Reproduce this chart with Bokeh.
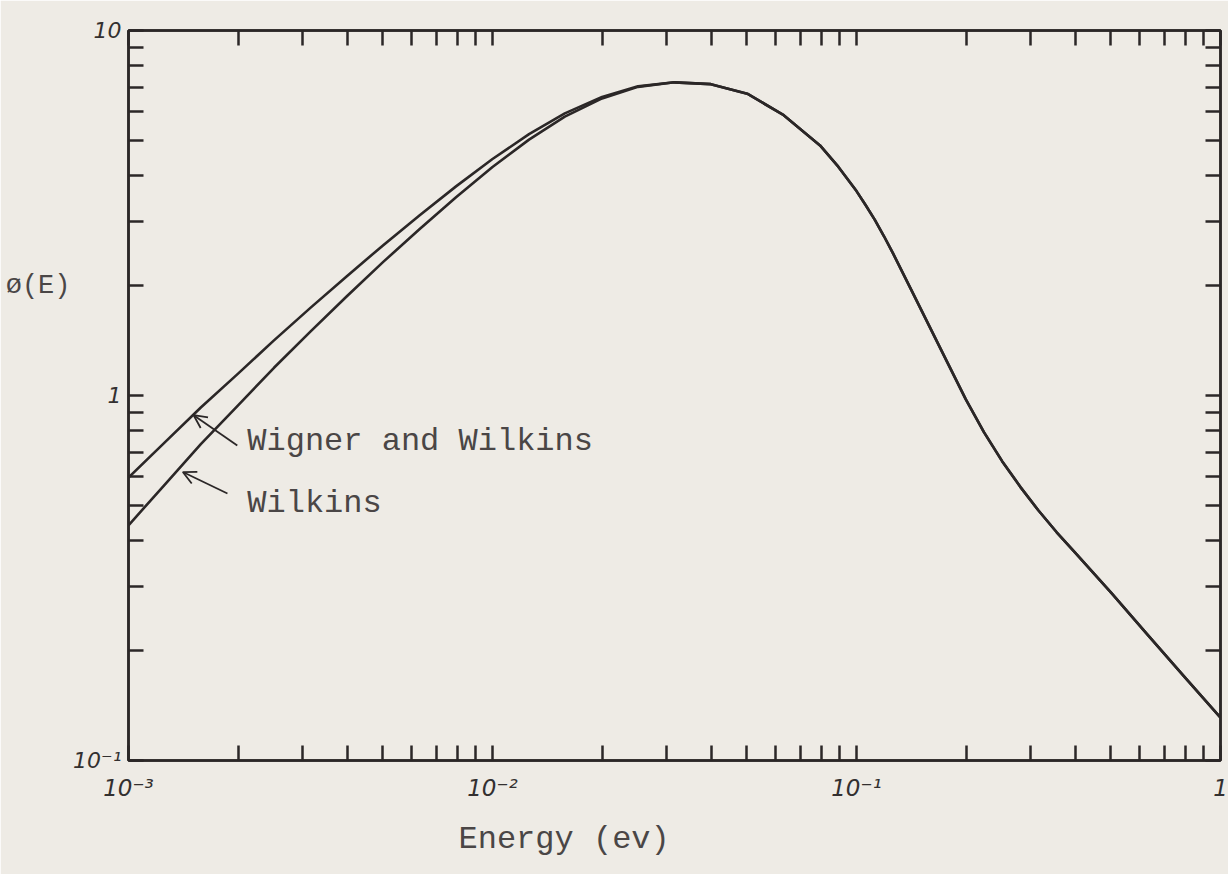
from bokeh.plotting import figure
from bokeh.models import (Range1d, LogAxis, LogScale, FixedTicker, Label, Arrow, OpenHead,
                          ColumnDataSource, Title)
from bokeh.embed import file_html
from bokeh.resources import INLINE

# ---- data ----
energy = [0.001, 0.00126, 0.00158, 0.002, 0.00251, 0.00316, 0.00398, 0.00501, 0.00631, 0.00794,
          0.01, 0.0126, 0.0158, 0.02, 0.0251, 0.0316, 0.0398, 0.0501, 0.0631, 0.0794,
          0.0891, 0.1, 0.1059, 0.1122, 0.1189, 0.1259, 0.1413, 0.1585, 0.1778, 0.1995,
          0.2239, 0.2512, 0.2818, 0.3162, 0.3548, 0.3981, 0.5012, 0.631, 0.794, 1.0]
phi_wigner_wilkins = [0.596, 0.745, 0.927, 1.148, 1.416, 1.738, 2.123, 2.582, 3.119, 3.741,
                      4.446, 5.200, 5.929, 6.577, 7.031, 7.211, 7.129, 6.714, 5.861, 4.842,
                      4.236, 3.631, 3.327, 3.034, 2.735, 2.455, 1.950, 1.549, 1.230, 0.977,
                      0.794, 0.661, 0.562, 0.484, 0.422, 0.372, 0.288, 0.221, 0.170, 0.131]
phi_wilkins = [0.441, 0.571, 0.736, 0.940, 1.191, 1.496, 1.871, 2.323, 2.858, 3.491,
               4.227, 5.023, 5.808, 6.516, 7.007, 7.211, 7.129, 6.714, 5.861, 4.842,
               4.236, 3.631, 3.327, 3.034, 2.735, 2.455, 1.950, 1.549, 1.230, 0.977,
               0.794, 0.661, 0.562, 0.484, 0.422, 0.372, 0.288, 0.221, 0.170, 0.131]

x_decades = [0.001, 0.01, 0.1, 1.0]
x_minor = [m * d for d in [0.001, 0.01, 0.1] for m in range(2, 10)]
x_tick_labels = {0.001: "10\u207b\u00b3", 0.01: "10\u207b\u00b2", 0.1: "10\u207b\u00b9", 1.0: "1"}
y_decades = [0.1, 1.0, 10.0]
y_minor = [m * d for d in [0.1, 1.0] for m in range(2, 10)]
y_tick_labels = {0.1: "10\u207b\u00b9", 1.0: "1", 10.0: "10"}

x_title = "Energy (ev)"
y_title = "\u00f8(E)"
y_title_at = 2.0          # height (in phi units) where the y title is written
label_ww = "Wigner and Wilkins"
label_w = "Wilkins"

# ---- style ----
PAPER = "#eeebe5"
INK = "#2b2727"
TYPE = "#4a4646"
MONO = "Liberation Mono"
HAND = "DejaVu Sans"

p = figure(frame_width=1092, frame_height=730, x_axis_type=None, y_axis_type=None,
           x_range=Range1d(0.001, 1.0), y_range=Range1d(0.1, 10.0),
           output_backend="svg", toolbar_location=None,
           min_border_left=128, min_border_right=8, min_border_top=30, min_border_bottom=114)
p.x_scale = LogScale()
p.y_scale = LogScale()

p.background_fill_color = PAPER
p.border_fill_color = PAPER
p.outline_line_color = INK
p.outline_line_width = 2.5
p.xgrid.visible = False
p.ygrid.visible = False


def style_axis(ax, labels, show, standoff=12, size="23px"):
    ax.axis_line_color = INK
    ax.axis_line_width = 2.5
    ax.major_tick_in = 15
    ax.major_tick_out = 0
    ax.minor_tick_in = 15
    ax.minor_tick_out = 0
    ax.major_tick_line_color = INK
    ax.minor_tick_line_color = INK
    ax.major_tick_line_width = 2.5
    ax.minor_tick_line_width = 2.5
    if show:
        ax.major_label_overrides = labels
        ax.major_label_text_font = HAND
        ax.major_label_text_font_style = "italic"
        ax.major_label_text_font_size = size
        ax.major_label_text_color = "#333030"
        ax.major_label_standoff = standoff
    else:
        ax.major_label_overrides = {k: "" for k in labels}
        ax.major_label_text_font_size = "1px"
        ax.major_label_standoff = 0


xt = FixedTicker(ticks=x_decades, minor_ticks=x_minor)
yt = FixedTicker(ticks=y_decades, minor_ticks=y_minor)
for loc, show in [("below", True), ("above", False)]:
    ax = LogAxis(ticker=xt)
    style_axis(ax, x_tick_labels, show, standoff=14, size="23px")
    p.add_layout(ax, loc)
for loc, show in [("left", True), ("right", False)]:
    ax = LogAxis(ticker=yt)
    style_axis(ax, y_tick_labels, show, standoff=7, size="22px")
    p.add_layout(ax, loc)

# y title: written horizontally, beside the axis at phi = y_title_at
ytitle_axis = LogAxis(ticker=FixedTicker(ticks=[y_title_at], minor_ticks=[]),
                      major_label_overrides={y_title_at: y_title})
ytitle_axis.axis_line_color = None
ytitle_axis.major_tick_line_color = None
ytitle_axis.minor_tick_line_color = None
ytitle_axis.major_tick_in = 0
ytitle_axis.major_tick_out = 0
ytitle_axis.major_label_text_font = MONO
ytitle_axis.major_label_text_font_size = "27px"
ytitle_axis.major_label_text_color = TYPE
ytitle_axis.major_label_standoff = 0
p.add_layout(ytitle_axis, "left")

src = ColumnDataSource(dict(e=energy, ww=phi_wigner_wilkins, w=phi_wilkins))
p.line("e", "ww", source=src, line_color=INK, line_width=2.6, line_join="round")
p.line("e", "w", source=src, line_color=INK, line_width=2.6, line_join="round")

# annotations (data-space anchors)
p.add_layout(Label(x=0.00212, y=0.748, text=label_ww, text_font=MONO, text_font_size="32px",
                   text_color=TYPE, text_baseline="middle"))
p.add_layout(Label(x=0.00212, y=0.506, text=label_w, text_font=MONO, text_font_size="32px",
                   text_color=TYPE, text_baseline="middle"))
p.add_layout(Arrow(x_start=0.00199, y_start=0.730, x_end=0.00151, y_end=0.883,
                   line_color=INK, line_width=1.8,
                   end=OpenHead(size=13, line_color=INK, line_width=1.8)))
p.add_layout(Arrow(x_start=0.00187, y_start=0.539, x_end=0.00141, y_end=0.617,
                   line_color=INK, line_width=1.8,
                   end=OpenHead(size=13, line_color=INK, line_width=1.8)))

# x title in the bottom panel
p.add_layout(Title(text=x_title, align="left", offset=330, standoff=30, text_font=MONO,
                   text_font_size="32px", text_font_style="normal", text_color=TYPE),
             "below")

open("out.html", "w").write(file_html(p, INLINE))
